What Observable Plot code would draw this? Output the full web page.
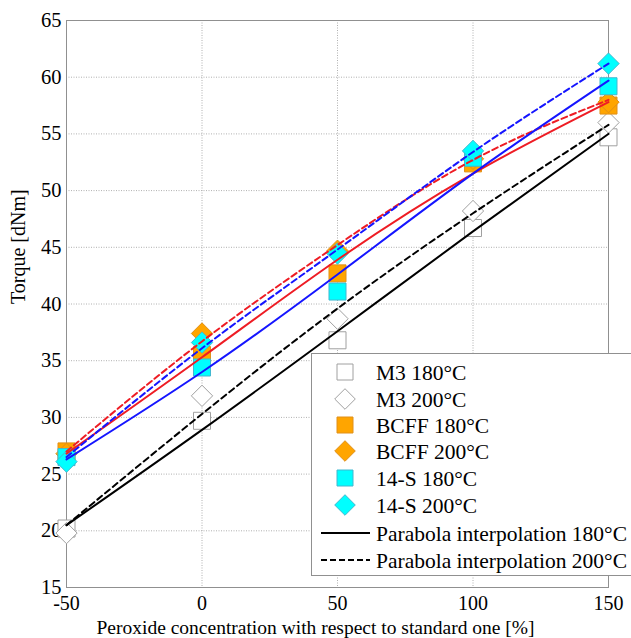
<!DOCTYPE html>
<html><head><meta charset="utf-8">
<script src="https://cdn.jsdelivr.net/npm/d3@7"></script>
<script src="https://cdn.jsdelivr.net/npm/@observablehq/plot@0.6"></script>
<style>body{margin:0;background:#fff;} svg text{font-family:"Liberation Serif","DejaVu Serif",serif;}</style>
</head><body><div id="chart"></div>
<script>
const xTicks = [-50, 0, 50, 100, 150];
const yTicks = [15, 20, 25, 30, 35, 40, 45, 50, 55, 60, 65];
const peroxide = [-50, 0, 50, 100, 150];

// measured torque
const m3_180   = [20.2, 29.7, 36.8, 46.7, 54.7];
const m3_200   = [19.8, 31.9, 38.7, 48.2, 56.0];
const bcff_180 = [27.0, 35.5, 42.7, 52.4, 57.5];
const bcff_200 = [26.8, 37.4, 44.7, 52.8, 57.8];
const s14_180  = [26.5, 34.4, 41.1, 52.9, 59.2];
const s14_200  = [26.1, 36.6, 44.45, 53.5, 61.2];

// parabola interpolation curves (read at the same x positions)
const fit_m3_180   = [20.5, 28.9, 37.6, 46.4, 55.0];
const fit_m3_200   = [20.5, 30.3, 39.6, 48.0, 55.8];
const fit_bcff_180 = [26.8, 35.3, 43.9, 51.5, 57.8];
const fit_bcff_200 = [27.0, 36.7, 45.2, 52.7, 58.0];
const fit_s14_180  = [26.3, 34.0, 42.6, 51.5, 59.7];
const fit_s14_200  = [26.5, 36.1, 44.8, 53.4, 61.2];

const seriesNames = ["M3 180°C", "M3 200°C", "BCFF 180°C", "BCFF 200°C", "14-S 180°C", "14-S 200°C"];
const lineLegend = ["Parabola interpolation 180°C", "Parabola interpolation 200°C"];
const xLabel = "Peroxide concentration with respect to standard one [%]";
const yLabel = "Torque [dNm]";

const font = "Liberation Serif, DejaVu Serif, serif";

const markerStyle = [
  {values: m3_180,   symbol: "square",   fill: "#ffffff", stroke: "#a0a0a0"},
  {values: m3_200,   symbol: "diamond2", fill: "#ffffff", stroke: "#a0a0a0"},
  {values: bcff_180, symbol: "square",   fill: "#ffa500", stroke: "#e0901a"},
  {values: bcff_200, symbol: "diamond2", fill: "#ffa500", stroke: "#e0901a"},
  {values: s14_180,  symbol: "square",   fill: "#00ffff", stroke: "#40b8d0"},
  {values: s14_200,  symbol: "diamond2", fill: "#00ffff", stroke: "#40b8d0"}
];
const fitStyle = [
  {values: fit_m3_180,   stroke: "#000000", dash: null},
  {values: fit_m3_200,   stroke: "#000000", dash: "6,4"},
  {values: fit_bcff_180, stroke: "#ee1c24", dash: null},
  {values: fit_bcff_200, stroke: "#ee1c24", dash: "6,3.5"},
  {values: fit_s14_180,  stroke: "#1515ff", dash: null},
  {values: fit_s14_200,  stroke: "#1515ff", dash: "6,3.5"}
];

const toRows = vals => peroxide.map((x, i) => ({x, y: vals[i]}));

const marks = [
  Plot.gridX(xTicks, {stroke: "#b0b0b0", strokeOpacity: 1, strokeDasharray: "1,1.5"}),
  Plot.gridY(yTicks, {stroke: "#b0b0b0", strokeOpacity: 1, strokeDasharray: "1,1.5"}),
  Plot.frame({stroke: "#909090"}),
  Plot.axisX(xTicks, {tickSize: 0, tickPadding: 8, fontSize: 20, label: null, tickFormat: d => String(d)}),
  Plot.axisY(yTicks, {tickSize: 0, tickPadding: 5, fontSize: 20.5, label: null}),
];
markerStyle.forEach(m => {
  marks.push(Plot.dot(toRows(m.values), {x: "x", y: "y", symbol: m.symbol, r: 9.6,
    fill: m.fill, stroke: m.stroke, strokeWidth: 1, fillOpacity: 1}));
});
fitStyle.forEach(f => {
  marks.push(Plot.line(toRows(f.values), {x: "x", y: "y", curve: "natural", stroke: f.stroke, strokeWidth: 2,
    strokeDasharray: f.dash}));
});
marks.push(Plot.text([xLabel], {frameAnchor: "bottom", dy: 46, dx: -22, fontSize: 19.5, text: d => d}));
marks.push(Plot.text([yLabel], {frameAnchor: "left", dx: -48, rotate: -90, fontSize: 20, text: d => d}));

const chart = Plot.plot({
  width: 631, height: 638,
  marginLeft: 66, marginRight: 23, marginTop: 20, marginBottom: 51,
  x: {domain: [-50, 150]},
  y: {domain: [15, 65]},
  style: {fontFamily: font, fontSize: "20px", color: "#000", background: "#fff", overflow: "visible"},
  marks
});
document.getElementById("chart").appendChild(chart);

// legend inside the plot (lower right)
const svg = d3.select(chart);
const lg = svg.append("g").attr("font-size", 21.5).attr("text-anchor", "start");
lg.append("rect").attr("x", 311.5).attr("y", 353.5).attr("width", 330).attr("height", 222)
  .attr("fill", "#fff").attr("stroke", "#909090");
const rowY = [372, 399, 425, 451, 478, 505, 533, 560];
markerStyle.forEach((m, i) => {
  const sym = m.symbol === "square" ? d3.symbolSquare : d3.symbolDiamond2;
  lg.append("path").attr("d", d3.symbol(sym, m.symbol === "square" ? 256 : 270)())
    .attr("transform", `translate(345,${rowY[i]})`).attr("fill", m.fill).attr("stroke", m.stroke);
  lg.append("text").attr("x", 376).attr("y", rowY[i]).attr("dy", "0.35em").text(seriesNames[i]);
});
lineLegend.forEach((t, j) => {
  const y = rowY[6 + j];
  lg.append("line").attr("x1", 321).attr("x2", 370).attr("y1", y).attr("y2", y)
    .attr("stroke", "#000").attr("stroke-width", 2).attr("stroke-dasharray", j ? "6,3" : null);
  lg.append("text").attr("x", 376).attr("y", y).attr("dy", "0.35em").text(t);
});
</script></body></html>
